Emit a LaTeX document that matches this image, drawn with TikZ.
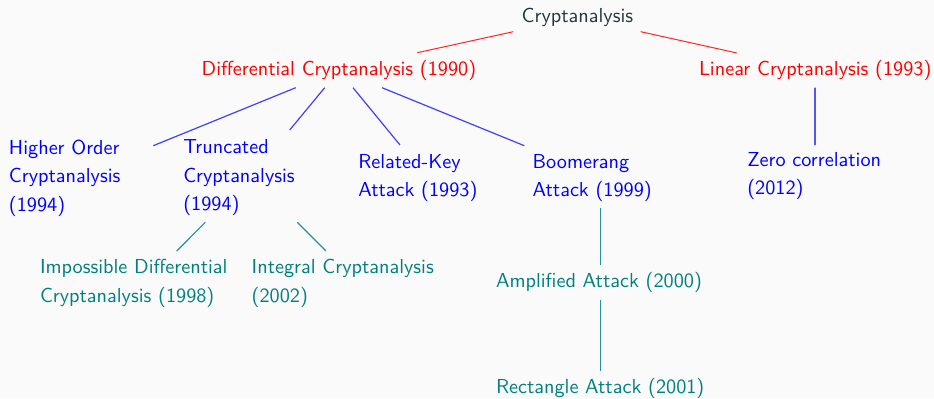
\documentclass[tikz,border=0pt]{standalone}
\usetikzlibrary{calc}
\definecolor{bgc}{HTML}{FAFAFA}
\definecolor{darktxt}{HTML}{23373B}
\begin{document}
\begin{tikzpicture}[x=0.5pt,y=-0.5pt,
  lbl/.style={inner sep=0pt, outer sep=0pt, anchor=north west, align=left,
    yshift=9.905pt,
    font=\sffamily\fontsize{10.12}{14.15}\selectfont, execute at begin node=\strut},
  multi/.style={yshift=-3.6pt},
  toplbl/.style={lbl, text=darktxt},
  redlbl/.style={lbl, text=red},
  bluelbl/.style={lbl, multi, text=blue},
  teallbl/.style={lbl, text=teal},
  redline/.style={draw=red!85, line width=0.5pt},
  blueline/.style={draw=blue!75, line width=0.6pt},
  zline/.style={draw=blue!90!black, line width=0.6pt},
  tealline/.style={draw=teal!85, line width=0.6pt}]
\fill[bgc] (0,0) rectangle (934,398);
\useasboundingbox (0,0) rectangle (934,398);

\node[toplbl] (crypt) at (521.7,22.7) {Cryptanalysis};
\node[redlbl] (diff) at (201.7,75.7) {Differential Cryptanalysis (1990)};
\node[redlbl] (lin) at (699,75) {Linear Cryptanalysis (1993)};

\node[bluelbl] (hoc) at (9,152.7) {Higher Order\\Cryptanalysis\\(1994)};
\node[bluelbl] (trunc) at (183.3,152.3) {Truncated\\Cryptanalysis\\(1994)};
\node[bluelbl] (rel) at (358.3,166.7) {Related-Key\\Attack (1993)};
\node[bluelbl] (boom) at (532.7,166.7) {Boomerang\\Attack (1999)};
\node[bluelbl] (zc) at (747.3,165) {Zero correlation\\(2012)};

\node[teallbl, multi] (imp) at (40,272.3) {Impossible Differential\\Cryptanalysis (1998)};
\node[teallbl, multi] (int) at (251.7,272.3) {Integral Cryptanalysis\\(2002)};
\node[teallbl] (amp) at (496,287.3) {Amplified Attack (2000)};
\node[teallbl] (rect) at (496,393.3) {Rectangle Attack (2001)};

% red edges
\draw[redline] ($(crypt.north west)+(-8.4,28.8)$) -- ($(diff.north west)+(215.6,-3.2)$);
\draw[redline] ($(crypt.north west)+(119,28.8)$) -- ($(lin.north west)+(38,-2.2)$);

% blue edges from differential
\draw[blueline] ($(diff.north west)+(94,31.8)$) -- ($(hoc.north west)+(144.3,5.6)$);
\draw[blueline] ($(diff.north west)+(123,31.8)$) -- ($(trunc.north west)+(106.4,-9.7)$);
\draw[blueline] ($(diff.north west)+(151.3,31.8)$) -- ($(rel.north west)+(41.7,-9.1)$);
\draw[blueline] ($(diff.north west)+(180.3,31.8)$) -- ($(boom.north west)+(-8.4,-8.4)$);

% linear -> zero correlation
\draw[zline] ($(lin.north west)+(116,32.5)$) -- ($(zc.north west)+(67.7,-7.2)$);

% teal edges
\draw[tealline] ($(trunc.north west)+(22,82.6)$) -- ($(imp.north west)+(136.7,-8.7)$);
\draw[tealline] ($(trunc.north west)+(114,82.6)$) -- ($(int.north west)+(74.3,-8.7)$);
\draw[tealline] ($(boom.north west)+(68,54.2)$) -- ($(amp.north west)+(104.7,-2.5)$);
\draw[tealline] ($(amp.north west)+(104.7,32.5)$) -- ($(rect.north west)+(104.7,-2.8)$);
\end{tikzpicture}
\end{document}
